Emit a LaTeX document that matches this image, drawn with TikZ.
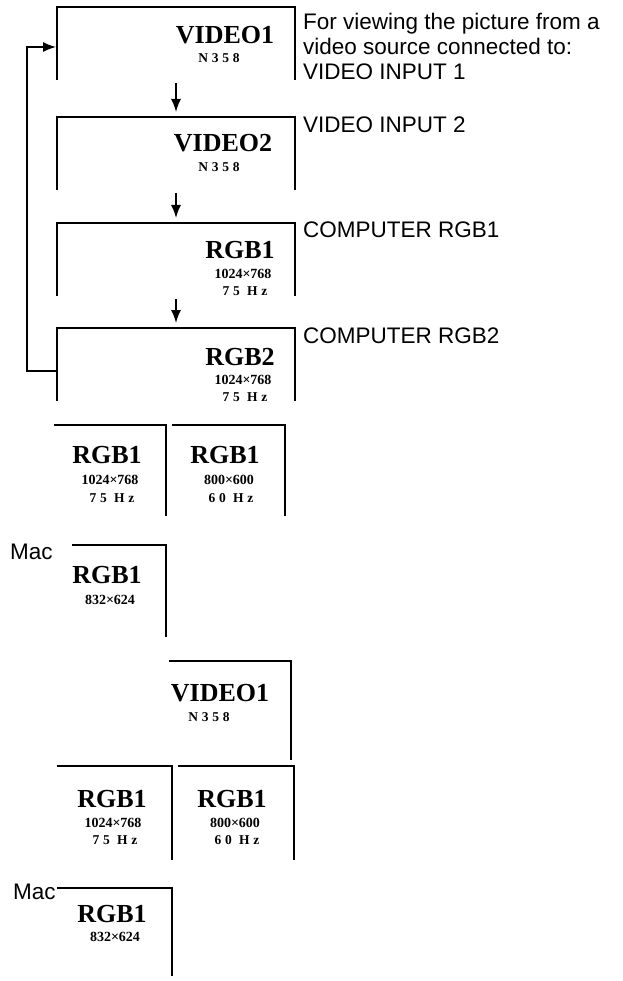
\documentclass[tikz,border=0pt]{standalone}
\usepackage{fontspec}
\setmainfont{Liberation Serif}
\setsansfont{Liberation Sans}
\newfontfamily\spacedfont[LetterSpace=28]{Liberation Serif}
\usetikzlibrary{arrows.meta}

\begin{document}
\begin{tikzpicture}[x=1pt,y=-1pt,
  panel/.style={inner sep=0pt,outer sep=0pt},
  edge/.style={line width=1.4pt},
  flow/.style={line width=1.5pt,-{Latex[length=13pt,width=10pt]}},
  title/.style={font=\fontsize{26}{26}\selectfont\bfseries},
  sub/.style={font=\fontsize{14}{14}\selectfont\bfseries},
  spaced/.style={font=\fontsize{13.5}{14}\selectfont\spacedfont\bfseries},
  note/.style={font=\sffamily\fontsize{22.5}{25}\selectfont,align=left,anchor=base west,inner sep=0pt}]
  \useasboundingbox (0,0) rectangle (622,981);

  % input cycle
  \node[panel,minimum width=238pt,minimum height=73pt] (v1) at (176,43.5) {};
  \node[panel,minimum width=238pt,minimum height=73pt] (v2) at (176,153.5) {};
  \node[panel,minimum width=238pt,minimum height=73pt] (r1) at (176,259.5) {};
  \node[panel,minimum width=238pt,minimum height=73pt] (r2) at (176,364.5) {};
  \foreach \b in {v1,v2,r1,r2}
    \draw[edge] (\b.south west) |- (\b.north east) -- (\b.south east);
  \foreach \a/\b in {v1/v2,v2/r1,r1/r2}
    \draw[flow,shorten <=3pt,shorten >=5pt] (\a) -- (\b);
  \draw[flow,shorten >=1pt] ([yshift=-6.5pt]r2.west) -- ++(-30,0) |- ([yshift=-3.5pt]v1.west);

  \node[title] (v1t) at (225,35) {VIDEO1};
  \node[spaced] (v1s) at (219,58) {N358};
  \node[title] (v2t) at (223,143) {VIDEO2};
  \node[spaced] (v2s) at (219,167) {N358};
  \node[title] (r1t) at (240,250) {RGB1};
  \node[sub] (r1r) at (243,274) {1024×768};
  \node[spaced] (r1h) at (245,291) {75 Hz};
  \node[title] (r2t) at (240,357) {RGB2};
  \node[sub] (r2r) at (243,380) {1024×768};
  \node[spaced] (r2h) at (245,397) {75 Hz};

  \node[note,anchor=north west] (n1) at (303,12.5) {For viewing the picture from a\\video source connected to:\\VIDEO INPUT 1};
  \node[note] (n2) at (303,133) {VIDEO INPUT 2};
  \node[note] (n3) at (303,238) {COMPUTER RGB1};
  \node[note] (n4) at (303,343) {COMPUTER RGB2};

  % display modes
  \node[panel,minimum width=112pt,minimum height=91pt] (lo1) at (110,470.5) {};
  \node[panel,minimum width=113pt,minimum height=91pt] (lo2) at (228.5,470.5) {};
  \node[panel,minimum width=94pt,minimum height=92pt] (mac1) at (119,591) {};
  \node[panel,minimum width=122pt,minimum height=99pt] (lv1) at (230,710.5) {};
  \node[panel,minimum width=115pt,minimum height=94pt] (lc) at (114.5,813) {};
  \node[panel,minimum width=116pt,minimum height=94pt] (ld) at (236,813) {};
  \node[panel,minimum width=115pt,minimum height=88pt] (mac2) at (114.5,932) {};
  \foreach \b in {lo1,lo2,mac1,lv1,lc,ld,mac2}
    \draw[edge] (\b.north west) -- (\b.north east) -- (\b.south east);

  \node[title] (lo1t) at (107,455) {RGB1};
  \node[sub] (lo1r) at (110,480) {1024×768};
  \node[spaced] (lo1h) at (112,498) {75 Hz};
  \node[title] (lo2t) at (225,455) {RGB1};
  \node[sub] (lo2r) at (229,480) {800×600};
  \node[spaced] (lo2h) at (231,498) {60 Hz};
  \node[note] (m1) at (10,559) {Mac};
  \node[title] (mac1t) at (107,575) {RGB1};
  \node[sub] (mac1r) at (110,600) {832×624};

  \node[title] (lv1t) at (220,693) {VIDEO1};
  \node[spaced] (lv1s) at (209,717) {N358};
  \node[title] (lct) at (112,799) {RGB1};
  \node[sub] (lcr) at (113,823) {1024×768};
  \node[spaced] (lch) at (115,840) {75 Hz};
  \node[title] (ldt) at (232,799) {RGB1};
  \node[sub] (ldr) at (235,823) {800×600};
  \node[spaced] (ldh) at (237,840) {60 Hz};
  \node[note] (m2) at (13,899) {Mac};
  \node[title] (mac2t) at (112,914) {RGB1};
  \node[sub] (mac2r) at (115,937) {832×624};
\end{tikzpicture}
\end{document}
